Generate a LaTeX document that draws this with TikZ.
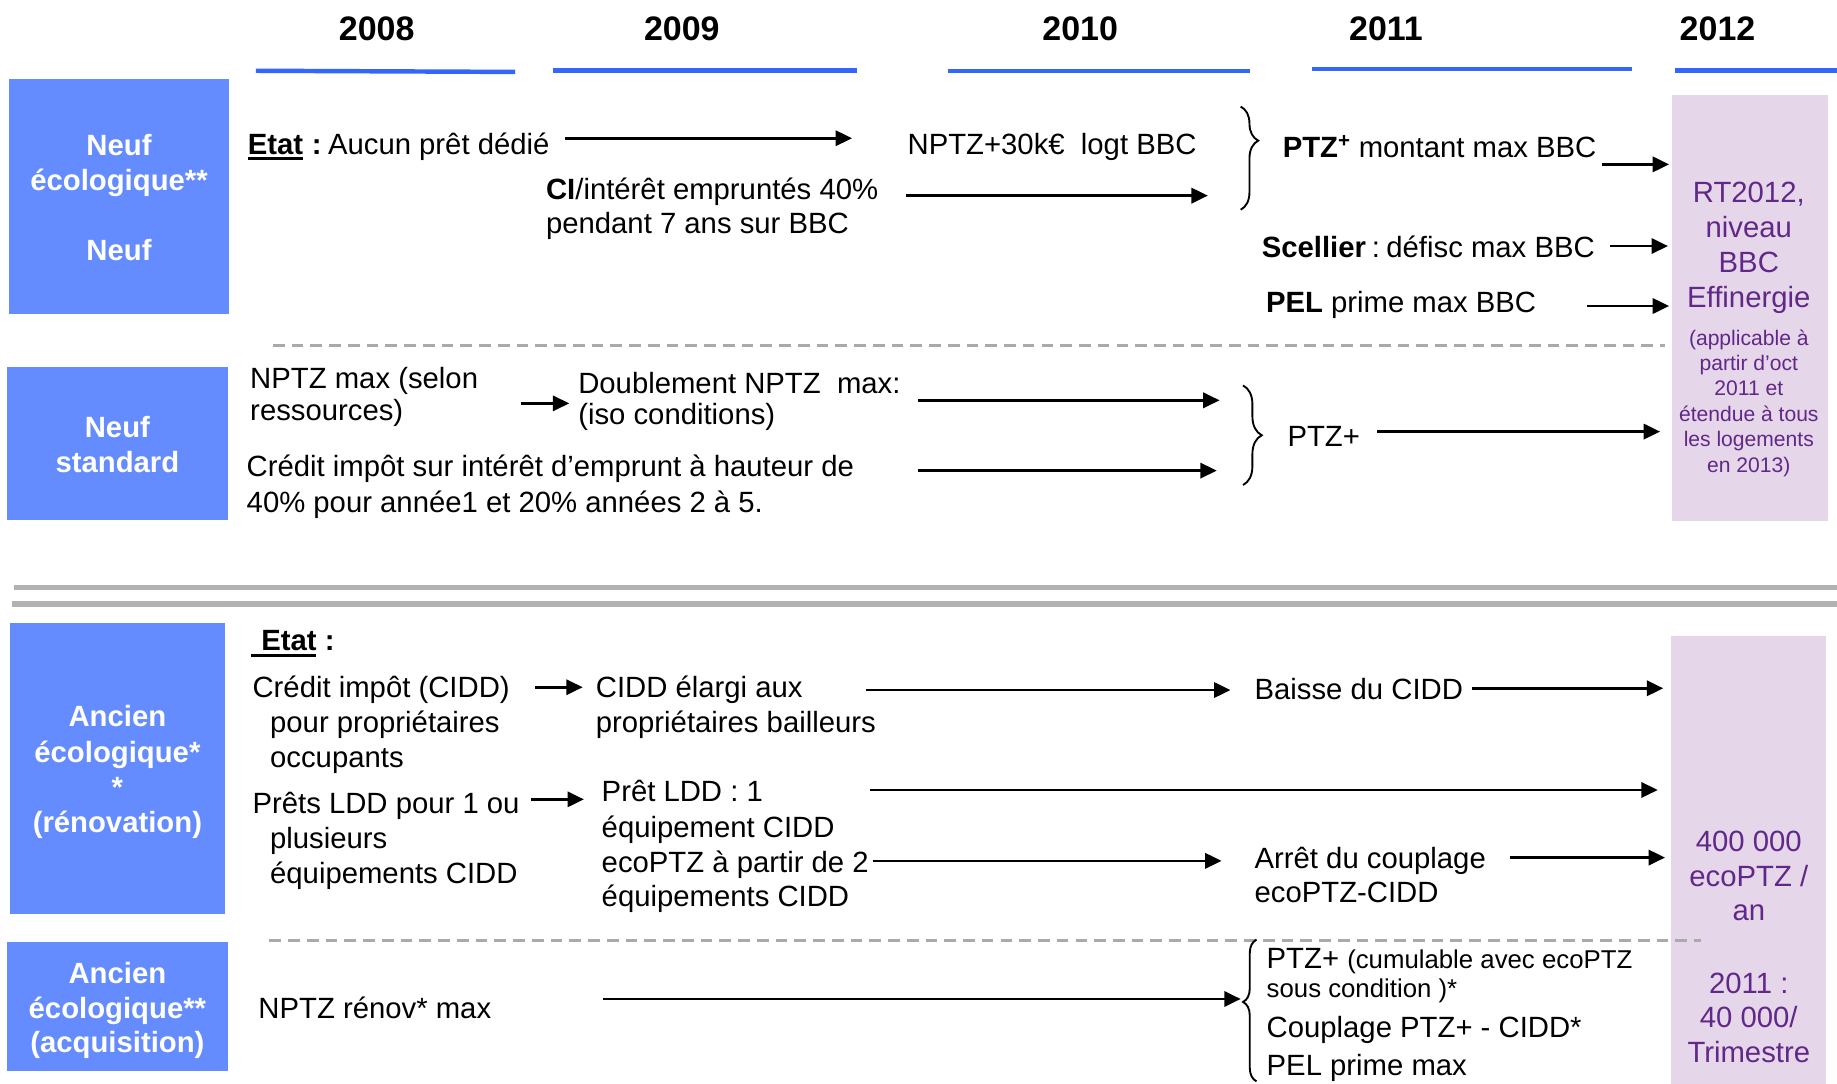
\documentclass[tikz,border=0pt]{standalone}
\usepackage{fontspec}
\setmainfont{Liberation Sans}
\usetikzlibrary{arrows.meta,decorations.pathreplacing}

\definecolor{boxblue}{RGB}{100,140,255}
\definecolor{lineblue}{RGB}{51,102,255}
\definecolor{lilac}{RGB}{230,214,233}
\definecolor{plum}{RGB}{96,40,136}
\definecolor{rulegray}{RGB}{178,178,178}
\definecolor{dashgray}{RGB}{170,170,170}

\tikzset{
  txt/.style={anchor=base west, inner sep=0pt, font=\fontsize{25}{30}\selectfont},
  smalltxt/.style={anchor=base west, inner sep=0pt, font=\fontsize{22}{26}\selectfont},
  yr/.style={anchor=base, inner sep=0pt, font=\fontsize{29}{34}\selectfont\bfseries},
  cat/.style={anchor=base, inner sep=0pt, text=white, font=\fontsize{25}{30}\selectfont\bfseries},
  plumtxt/.style={anchor=base, inner sep=0pt, text=plum, font=\fontsize{25}{30}\selectfont},
  plumsmall/.style={anchor=base, inner sep=0pt, text=plum, font=\fontsize{18}{22}\selectfont},
  catbox/.style={fill=boxblue, draw=none, anchor=north west, inner sep=0pt, outer sep=0pt},
  noteband/.style={fill=lilac, draw=none, anchor=north west, inner sep=0pt, outer sep=0pt},
  flow/.style={line width=2.2pt, -{Triangle[length=14pt,width=13pt]}},
  yearbar/.style={lineblue, line width=3.8pt},
  splitline/.style={dashgray, line width=2.5pt, dash pattern=on 10pt off 6pt},
  band/.style={rulegray, line width=4.5pt},
  grp/.style={line width=1.6pt, decorate},
  uline/.style={line width=2.5pt},
}

\begin{document}
\begin{tikzpicture}[x=1pt,y=-1pt]
\useasboundingbox (0,0) rectangle (1568,925);

% ---- year header ----
\node[yr] (y08) at (321.5,34.7) {2008};
\node[yr] (y09) at (582,34.7) {2009};
\node[yr] (y10) at (922,34.7) {2010};
\node[yr] (y11) at (1183,34.7) {2011};
\node[yr] (y12) at (1466,34.7) {2012};
\draw[yearbar] (218.4,60.4) -- (439.7,61.4);
\draw[yearbar] (472,60.3) -- (731.4,60.3);
\draw[yearbar] (809,60.6) -- (1066.7,60.6);
\draw[yearbar] (1120,58.9) -- (1393,58.9);
\draw[yearbar] (1430,60) -- (1568,60);

% ---- category boxes ----
\node[catbox, minimum width=188.3pt, minimum height=200.6pt] (bneuf) at (7.5,67.4) {};
\node[catbox, minimum width=188.3pt, minimum height=130.1pt] (bstd) at (6,313.5) {};
\node[catbox, minimum width=183.3pt, minimum height=248.2pt] (bren) at (8.5,531.7) {};
\node[catbox, minimum width=188.3pt, minimum height=109.6pt] (bacq) at (6,804.3) {};

\node[cat] (c1a) at (101.6,132.5) {Neuf};
\node[cat] (c1b) at (101.6,162.5) {écologique**};
\node[cat] (c1c) at (101.6,222.5) {Neuf};
\node[cat] (c2a) at (100.2,373.5) {Neuf};
\node[cat] (c2b) at (100.2,403.5) {standard};
\node[cat] (c3a) at (100.2,620.5) {Ancien};
\node[cat] (c3b) at (100.2,650.5) {écologique*};
\node[cat] (c3c) at (100.2,680.5) {*};
\node[cat] (c3d) at (100.2,710.5) {(rénovation)};
\node[cat] (c4a) at (100.2,839.8) {Ancien};
\node[cat] (c4b) at (100.2,869.1) {écologique**};
\node[cat] (c4c) at (100.2,898.7) {(acquisition)};

% ---- 2012 bands ----
\node[noteband, minimum width=133pt, minimum height=363.4pt] (ntop) at (1427,81) {};
\node[noteband, minimum width=132.7pt, minimum height=382.4pt] (nbot) at (1426.3,542.6) {};

\node[plumtxt] (n1) at (1492.7,172.5) {RT2012,};
\node[plumtxt] (n2) at (1492.7,203) {niveau};
\node[plumtxt] (n3) at (1492.7,232.5) {BBC};
\node[plumtxt] (n4) at (1492.7,262.3) {Effinergie};
\node[plumsmall] (n5) at (1492.7,294.6) {(applicable à};
\node[plumsmall] (n6) at (1492.7,316.2) {partir d’oct};
\node[plumsmall] (n7) at (1492.7,337.8) {2011 et};
\node[plumsmall] (n8) at (1492.7,359.7) {étendue à tous};
\node[plumsmall] (n9) at (1492.7,381.5) {les logements};
\node[plumsmall] (n10) at (1492.7,403) {en 2013)};

\node[plumtxt] (m1) at (1492.7,726.5) {400 000};
\node[plumtxt] (m2) at (1492.7,756.7) {ecoPTZ /};
\node[plumtxt] (m3) at (1492.7,786) {an};
\node[plumtxt] (m4) at (1492.7,847.8) {2011 :};
\node[plumtxt] (m5) at (1492.7,877.4) {40 000/};
\node[plumtxt] (m6) at (1492.7,906.7) {Trimestre};

% ---- separators ----
\draw[splitline] (233,294.7) -- (1421,294.7);
\draw[band] (12,501.6) -- (1568,501.6);
\draw[band] (10,515.5) -- (1568,515.5);
\draw[splitline] (230,802.5) -- (1452,802.5);

% ---- Neuf écologique ----
\node[txt] (e1) at (211.4,131.5) {\textbf{Etat}};
\node[txt, anchor=base west] (e1r) at (e1.base east) {\textbf{\ :}\hspace{0.22em}Aucun prêt dédié};
\draw[uline] (211.4,135) -- (258.6,135);
\node[txt] (t2) at (774.5,132) {NPTZ+30k€\ \ logt BBC};
\node[txt] (t3a) at (465.9,170.5) {\textbf{CI}/intérêt empruntés 40\%};
\node[txt] (t3b) at (465.9,199.5) {pendant 7 ans sur BBC};
\node[txt] (t4) at (1094.7,134.8) {\textbf{PTZ\textsuperscript{+}} montant max BBC};
\node[txt] (t5) at (1076.8,219.5) {\textbf{Scellier}\hspace{0.2em}:\hspace{0.22em}défisc max BBC};
\node[txt] (t6) at (1080.4,266.5) {\textbf{PEL} prime max BBC};

\coordinate (a1s) at (482,118);     \coordinate (a1e) at (727.3,118);
\coordinate (a2s) at (773.3,167);   \coordinate (a2e) at (1031,167);
\coordinate (a3s) at (1367.5,140.3);\coordinate (a3e) at (1424.7,140.3);
\coordinate (a4s) at (1374,210);    \coordinate (a4e) at (1423.7,210);
\coordinate (a5s) at (1354.8,261.2);\coordinate (a5e) at (1424.7,261.2);
\draw[flow] (a1s) -- (a1e);
\draw[flow] (a2s) -- (a2e);
\draw[flow] (a3s) -- (a3e);
\draw[flow] (a4s) -- (a4e);
\draw[flow] (a5s) -- (a5e);
\coordinate (g1t) at (1059,91); \coordinate (g1b) at (1059,179);
\draw[grp, decoration={brace, amplitude=15pt, aspect=0.33}] (g1t) -- (g1b);

% ---- Neuf standard ----
\node[txt] (s1a) at (213.4,331.5) {NPTZ max (selon};
\node[txt] (s1b) at (213.4,358.5) {ressources)};
\node[txt] (s2a) at (493.4,336.2) {Doublement NPTZ\ \ max:};
\node[txt] (s2b) at (493.4,362.5) {(iso conditions)};
\node[txt] (s3a) at (210.4,406.8) {Crédit impôt sur intérêt d’emprunt à hauteur de};
\node[txt] (s3b) at (210.4,437.8) {40\% pour année1 et 20\% années 2 à 5.};
\node[txt] (s4) at (1098.8,381.2) {PTZ+};

\coordinate (a6s) at (444.3,344.3); \coordinate (a6e) at (485.9,344.3);
\coordinate (a7s) at (783.5,341.7); \coordinate (a7e) at (1041,341.7);
\coordinate (a8s) at (783.5,401.7); \coordinate (a8e) at (1038.6,401.7);
\coordinate (a9s) at (1175.3,368.4);\coordinate (a9e) at (1417,368.4);
\draw[flow] (a6s) -- (a6e);
\draw[flow] (a7s) -- (a7e);
\draw[flow] (a8s) -- (a8e);
\draw[flow] (a9s) -- (a9e);
\coordinate (g2t) at (1061,329); \coordinate (g2b) at (1061,414);
\draw[grp, decoration={brace, amplitude=16pt, aspect=0.5}] (g2t) -- (g2b);

% ---- Ancien écologique (rénovation) ----
\node[txt] (r0) at (222.9,555.3) {\textbf{Etat :}};
\draw[uline] (214.4,559.8) -- (269.5,559.8);
\node[txt] (r1a) at (215.4,595.1) {Crédit impôt (CIDD)};
\node[txt] (r1b) at (230.4,625) {pour propriétaires};
\node[txt] (r1c) at (230.4,654.9) {occupants};
\node[txt] (r2a) at (508.4,595.1) {CIDD élargi aux};
\node[txt] (r2b) at (508.4,625) {propriétaires bailleurs};
\node[txt] (r3) at (1070.7,597.4) {Baisse du CIDD};
\node[txt] (r4a) at (215.4,694.7) {Prêts LDD pour 1 ou};
\node[txt] (r4b) at (230.4,724.5) {plusieurs};
\node[txt] (r4c) at (230.4,754.5) {équipements CIDD};
\node[txt] (r5a) at (513.4,684.2) {Prêt LDD : 1};
\node[txt] (r5b) at (513.4,714.6) {équipement CIDD};
\node[txt] (r5c) at (513.4,744.5) {ecoPTZ à partir de 2};
\node[txt] (r5d) at (513.4,773.8) {équipements CIDD};
\node[txt] (r6a) at (1070.7,741.1) {Arrêt du couplage};
\node[txt] (r6b) at (1070.7,770.1) {ecoPTZ-CIDD};

\coordinate (a10s) at (456.8,586.6); \coordinate (a10e) at (497.4,586.6);
\coordinate (a11s) at (738.8,589);   \coordinate (a11e) at (1050.3,589);
\coordinate (a12s) at (1256.4,587.5);\coordinate (a12e) at (1419.7,587.5);
\coordinate (a13s) at (453.3,682.3); \coordinate (a13e) at (498.4,682.3);
\coordinate (a14s) at (742.3,674.3); \coordinate (a14e) at (1415,674.3);
\coordinate (a15s) at (744.9,734.8); \coordinate (a15e) at (1042.7,734.8);
\coordinate (a16s) at (1288.6,732);  \coordinate (a16e) at (1421.2,732);
\draw[flow] (a10s) -- (a10e);
\draw[flow] (a11s) -- (a11e);
\draw[flow] (a12s) -- (a12e);
\draw[flow] (a13s) -- (a13e);
\draw[flow] (a14s) -- (a14e);
\draw[flow] (a15s) -- (a15e);
\draw[flow] (a16s) -- (a16e);

% ---- Ancien écologique (acquisition) ----
\node[txt] (q1) at (220.4,869.1) {NPTZ rénov* max};
\node[txt] (q2a) at (1081,826.5) {PTZ+ {\fontsize{22}{26}\selectfont (cumulable avec ecoPTZ}};
\node[smalltxt] (q2b) at (1081,851.2) {sous condition )*};
\node[txt] (q3) at (1081,885.4) {Couplage PTZ+ - CIDD*};
\node[txt] (q4) at (1081,918) {PEL prime max};

\coordinate (a17s) at (514.9,852.7); \coordinate (a17e) at (1059,852.7);
\draw[flow] (a17s) -- (a17e);
\coordinate (g3b) at (1072.5,923); \coordinate (g3t) at (1072.5,802);
\draw[grp, decoration={brace, amplitude=11.5pt, aspect=0.56}] (g3b) -- (g3t);

\end{tikzpicture}
\end{document}
